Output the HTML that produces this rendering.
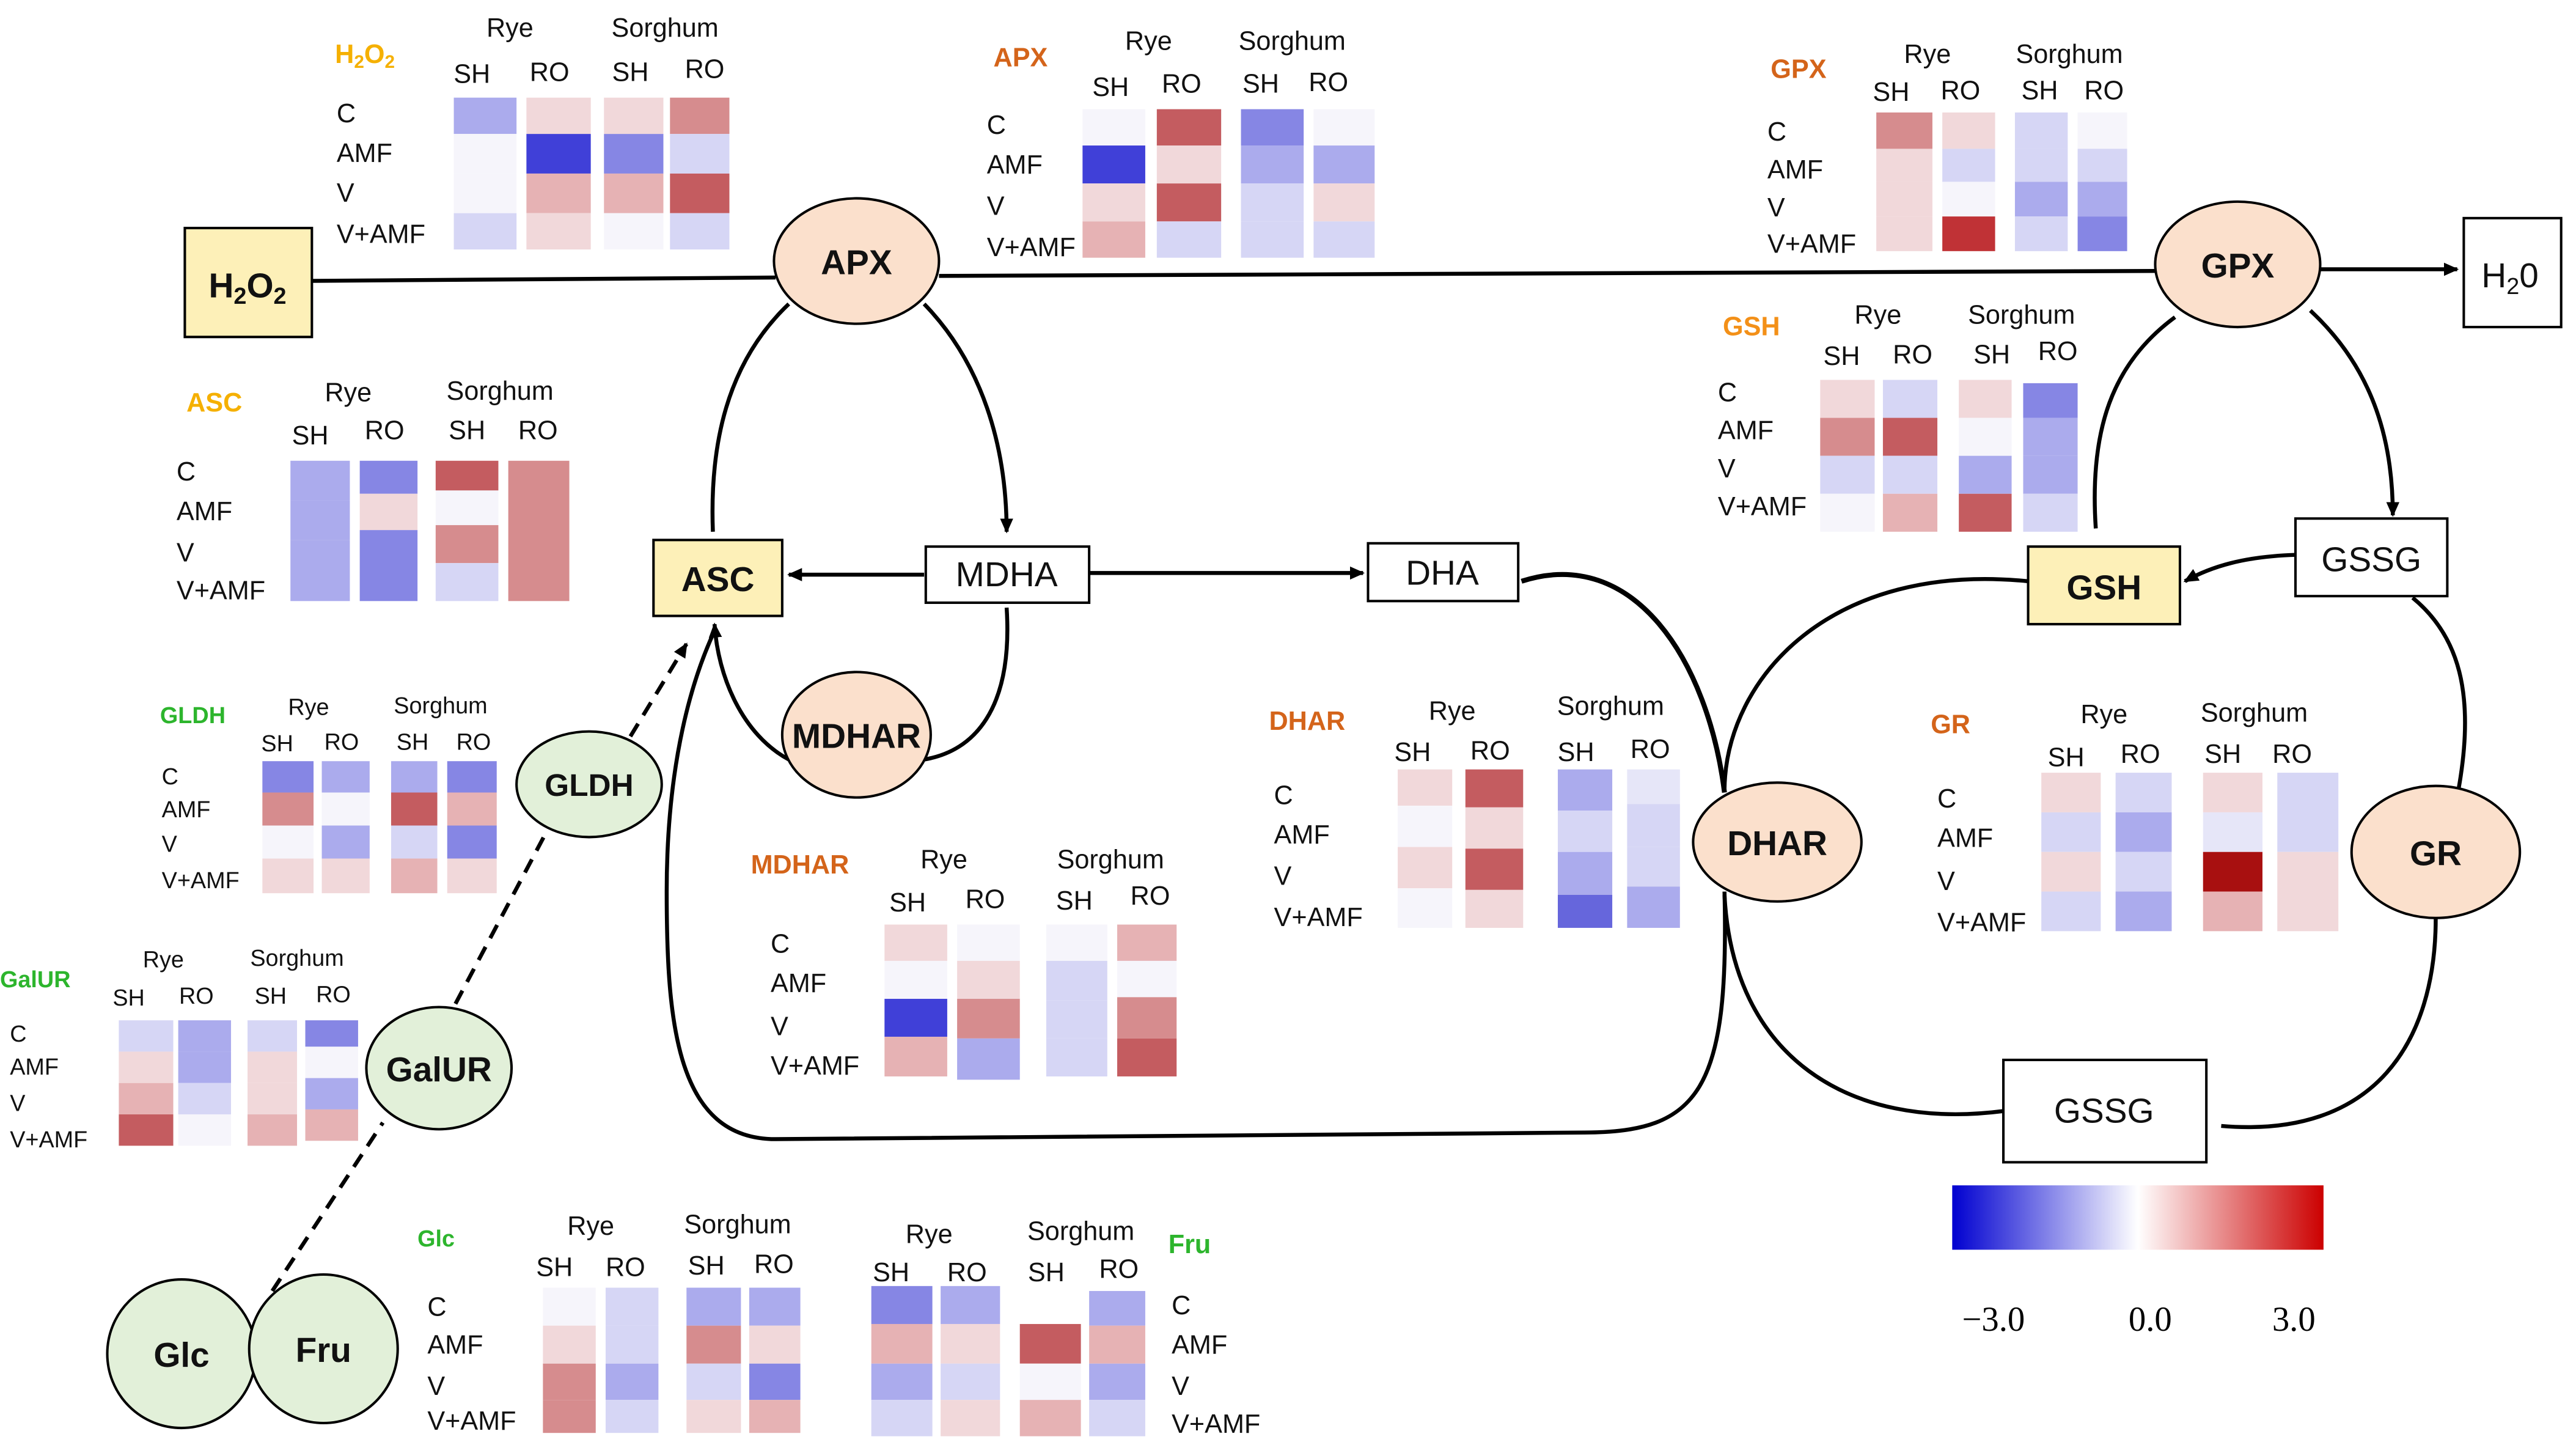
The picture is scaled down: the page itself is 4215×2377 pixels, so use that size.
<!DOCTYPE html>
<html><head><meta charset="utf-8"><style>
html,body{margin:0;padding:0;background:#fff;}
svg{display:block;}
text{font-family:"Liberation Sans","DejaVu Sans",sans-serif;}
.h{font-size:16px;fill:#111;}
.r{font-size:16px;fill:#111;}
.hs{font-size:14px;fill:#111;}
.to{font-size:16px;font-weight:bold;fill:#d4641a;}
.ty{font-size:16px;font-weight:bold;fill:#f5b000;}
.tg{font-size:14px;font-weight:bold;fill:#2db52d;}
.n{font-size:21px;font-weight:bold;fill:#111;}
.b{font-size:21px;fill:#111;}
.B3{fill:#4040d8}.B2{fill:#8686e4}.B1{fill:#ababed}.B0{fill:#d6d6f5}.W{fill:#f6f5fb}
.R0{fill:#f1d8da}.R1{fill:#e6b2b4}.R2{fill:#d68c8e}.R3{fill:#c45c60}.RR{fill:#a81010}
.ln{fill:none;stroke:#000;stroke-width:2.4}
</style></head><body>
<svg width="4215" height="2377" viewBox="0 0 1561 880" xmlns="http://www.w3.org/2000/svg">
<defs>
<marker id="a" markerWidth="10" markerHeight="10" refX="8" refY="5" orient="auto" markerUnits="userSpaceOnUse"><path d="M0,1 L9,5 L0,9 z" fill="#000"/></marker>
<linearGradient id="cb" x1="0" x2="1" y1="0" y2="0"><stop offset="0" stop-color="#0000d0"/><stop offset="0.5" stop-color="#ffffff"/><stop offset="1" stop-color="#cc0000"/></linearGradient>
</defs>

<!-- connectors -->
<path class="ln" d="M189,170 L470,168"/>
<path class="ln" d="M569,167 L1306,164"/>
<path class="ln" d="M1406,163 L1489,163" marker-end="url(#a)"/>
<path class="ln" d="M478,184 C440,220 430,270 432,322"/>
<path class="ln" d="M560,184 C595,220 610,270 610,322" marker-end="url(#a)"/>
<path class="ln" d="M560,348 L478,348" marker-end="url(#a)"/>
<path class="ln" d="M660,347 L826,347" marker-end="url(#a)"/>
<path class="ln" d="M610,368 C614,430 590,455 560,460"/>
<path class="ln" d="M478,460 C450,445 435,410 433,378" marker-end="url(#a)"/>
<path class="ln" style="stroke-width:3" d="M922,352 C990,330 1035,400 1045,480"/>
<path class="ln" d="M1045,540 C1048,660 1030,686 960,686 L470,690 C410,690 404,620 404,540 C404,460 420,410 433,382"/>
<path class="ln" d="M1229,352 C1110,340 1046,410 1045,478"/>
<path class="ln" d="M1045,542 C1050,640 1120,685 1214,673"/>
<path class="ln" d="M1346,682 C1440,690 1476,630 1476,556"/>
<path class="ln" d="M1490,477 C1500,420 1490,385 1462,362"/>
<path class="ln" d="M1391,336 C1360,337 1340,343 1324,352" marker-end="url(#a)"/>
<path class="ln" d="M1400,188 C1440,225 1450,270 1450,312" marker-end="url(#a)"/>
<path class="ln" d="M1270,320 C1266,260 1280,220 1318,192"/>
<path class="ln" stroke-dasharray="9,6" d="M165,782 L232,680"/>
<path class="ln" stroke-dasharray="9,6" d="M276,608 L330,506"/>
<path class="ln" stroke-dasharray="9,6" d="M382,446 L416,390" marker-end="url(#a)"/>

<!-- nodes -->
<rect x="112" y="138" width="77" height="66" fill="#fdf0b8" stroke="#000" stroke-width="1.5"/>
<text x="150" y="180" class="n" text-anchor="middle">H<tspan font-size="14" dy="4">2</tspan><tspan dy="-4">O</tspan><tspan font-size="14" dy="4">2</tspan></text>
<ellipse cx="519" cy="158" rx="50" ry="38" fill="#fbe0cc" stroke="#000" stroke-width="1.5"/>
<text x="519" y="166" class="n" text-anchor="middle">APX</text>
<ellipse cx="1356" cy="160" rx="50" ry="38" fill="#fbe0cc" stroke="#000" stroke-width="1.5"/>
<text x="1356" y="168" class="n" text-anchor="middle">GPX</text>
<rect x="1493" y="132" width="59" height="66" fill="#fff" stroke="#000" stroke-width="1.5"/>
<text x="1521" y="174" class="b" text-anchor="middle">H<tspan font-size="14" dy="4">2</tspan><tspan dy="-4">0</tspan></text>
<rect x="396" y="327" width="78" height="46" fill="#fdf0b8" stroke="#000" stroke-width="1.5"/>
<text x="435" y="358" class="n" text-anchor="middle">ASC</text>
<rect x="561" y="331" width="99" height="34" fill="#fff" stroke="#000" stroke-width="1.5"/>
<text x="610" y="355" class="b" text-anchor="middle">MDHA</text>
<rect x="829" y="329" width="91" height="35" fill="#fff" stroke="#000" stroke-width="1.5"/>
<text x="874" y="354" class="b" text-anchor="middle">DHA</text>
<ellipse cx="519" cy="445" rx="45" ry="38" fill="#fbe0cc" stroke="#000" stroke-width="1.5"/>
<text x="519" y="453" class="n" text-anchor="middle">MDHAR</text>
<rect x="1229" y="331" width="92" height="47" fill="#fdf0b8" stroke="#000" stroke-width="1.5"/>
<text x="1275" y="363" class="n" text-anchor="middle">GSH</text>
<rect x="1391" y="314" width="92" height="47" fill="#fff" stroke="#000" stroke-width="1.5"/>
<text x="1437" y="346" class="b" text-anchor="middle">GSSG</text>
<ellipse cx="1077" cy="510" rx="51" ry="36" fill="#fbe0cc" stroke="#000" stroke-width="1.5"/>
<text x="1077" y="518" class="n" text-anchor="middle">DHAR</text>
<ellipse cx="1476" cy="516" rx="51" ry="40" fill="#fbe0cc" stroke="#000" stroke-width="1.5"/>
<text x="1476" y="524" class="n" text-anchor="middle">GR</text>
<rect x="1214" y="642" width="123" height="62" fill="#fff" stroke="#000" stroke-width="1.5"/>
<text x="1275" y="680" class="b" text-anchor="middle">GSSG</text>
<ellipse cx="357" cy="475" rx="44" ry="32" fill="#e2f0d9" stroke="#000" stroke-width="1.5"/>
<text x="357" y="482" class="n" font-size="19" text-anchor="middle" style="font-size:19px">GLDH</text>
<ellipse cx="266" cy="647" rx="44" ry="37" fill="#e2f0d9" stroke="#000" stroke-width="1.5"/>
<text x="266" y="655" class="n" text-anchor="middle">GalUR</text>
<circle cx="110" cy="820" r="45" fill="#e2f0d9" stroke="#000" stroke-width="1.5"/>
<text x="110" y="828" class="n" text-anchor="middle">Glc</text>
<circle cx="196" cy="817" r="45" fill="#e2f0d9" stroke="#000" stroke-width="1.5"/>
<text x="196" y="825" class="n" text-anchor="middle">Fru</text>

<!-- colorbar -->
<rect x="1183" y="718" width="225" height="39" fill="url(#cb)"/>
<text x="1208" y="806" text-anchor="middle" style="font-family:'Liberation Serif',serif;font-size:21px">−3.0</text>
<text x="1303" y="806" text-anchor="middle" style="font-family:'Liberation Serif',serif;font-size:21px">0.0</text>
<text x="1390" y="806" text-anchor="middle" style="font-family:'Liberation Serif',serif;font-size:21px">3.0</text>

<!-- H2O2 heatmap -->
<text x="203" y="38" class="ty">H<tspan font-size="11" dy="3">2</tspan><tspan dy="-3">O</tspan><tspan font-size="11" dy="3">2</tspan></text>
<text x="309" y="22" class="h" text-anchor="middle">Rye</text><text x="403" y="22" class="h" text-anchor="middle">Sorghum</text>
<text x="286" y="50" class="h" text-anchor="middle">SH</text><text x="333" y="49" class="h" text-anchor="middle">RO</text><text x="382" y="49" class="h" text-anchor="middle">SH</text><text x="427" y="47" class="h" text-anchor="middle">RO</text>
<text x="204" y="74" class="r">C</text><text x="204" y="98" class="r">AMF</text><text x="204" y="122" class="r">V</text><text x="204" y="147" class="r">V+AMF</text>
<rect x="275" y="59" width="38" height="22" class="B1"/><rect x="275" y="81" width="38" height="24" class="W"/><rect x="275" y="105" width="38" height="24" class="W"/><rect x="275" y="129" width="38" height="22" class="B0"/>
<rect x="319" y="59" width="39" height="22" class="R0"/><rect x="319" y="81" width="39" height="24" class="B3"/><rect x="319" y="105" width="39" height="24" class="R1"/><rect x="319" y="129" width="39" height="22" class="R0"/>
<rect x="366" y="59" width="36" height="22" class="R0"/><rect x="366" y="81" width="36" height="24" class="B2"/><rect x="366" y="105" width="36" height="24" class="R1"/><rect x="366" y="129" width="36" height="22" class="W"/>
<rect x="406" y="59" width="36" height="22" class="R2"/><rect x="406" y="81" width="36" height="24" class="B0"/><rect x="406" y="105" width="36" height="24" class="R3"/><rect x="406" y="129" width="36" height="22" class="B0"/>

<!-- APX heatmap -->
<text x="602" y="40" class="to">APX</text>
<text x="696" y="30" class="h" text-anchor="middle">Rye</text><text x="783" y="30" class="h" text-anchor="middle">Sorghum</text>
<text x="673" y="58" class="h" text-anchor="middle">SH</text><text x="716" y="56" class="h" text-anchor="middle">RO</text><text x="764" y="56" class="h" text-anchor="middle">SH</text><text x="805" y="55" class="h" text-anchor="middle">RO</text>
<text x="598" y="81" class="r">C</text><text x="598" y="105" class="r">AMF</text><text x="598" y="130" class="r">V</text><text x="598" y="155" class="r">V+AMF</text>
<rect x="656" y="66" width="38" height="22" class="W"/><rect x="656" y="88" width="38" height="23" class="B3"/><rect x="656" y="111" width="38" height="23" class="R0"/><rect x="656" y="134" width="38" height="22" class="R1"/>
<rect x="701" y="66" width="39" height="22" class="R3"/><rect x="701" y="88" width="39" height="23" class="R0"/><rect x="701" y="111" width="39" height="23" class="R3"/><rect x="701" y="134" width="39" height="22" class="B0"/>
<rect x="752" y="66" width="38" height="22" class="B2"/><rect x="752" y="88" width="38" height="23" class="B1"/><rect x="752" y="111" width="38" height="23" class="B0"/><rect x="752" y="134" width="38" height="22" class="B0"/>
<rect x="796" y="66" width="37" height="22" class="W"/><rect x="796" y="88" width="37" height="23" class="B1"/><rect x="796" y="111" width="37" height="23" class="R0"/><rect x="796" y="134" width="37" height="22" class="B0"/>

<!-- GPX heatmap -->
<text x="1073" y="47" class="to">GPX</text>
<text x="1168" y="38" class="h" text-anchor="middle">Rye</text><text x="1254" y="38" class="h" text-anchor="middle">Sorghum</text>
<text x="1146" y="61" class="h" text-anchor="middle">SH</text><text x="1188" y="60" class="h" text-anchor="middle">RO</text><text x="1236" y="60" class="h" text-anchor="middle">SH</text><text x="1275" y="60" class="h" text-anchor="middle">RO</text>
<text x="1071" y="85" class="r">C</text><text x="1071" y="108" class="r">AMF</text><text x="1071" y="131" class="r">V</text><text x="1071" y="153" class="r">V+AMF</text>
<rect x="1137" y="68" width="34" height="22" class="R2"/><rect x="1137" y="90" width="34" height="20" class="R0"/><rect x="1137" y="110" width="34" height="21" class="R0"/><rect x="1137" y="131" width="34" height="21" class="R0"/>
<rect x="1177" y="68" width="32" height="22" class="R0"/><rect x="1177" y="90" width="32" height="20" class="B0"/><rect x="1177" y="110" width="32" height="21" class="W"/><rect x="1177" y="131" width="32" height="21" fill="#c03236"/>
<rect x="1221" y="68" width="32" height="22" class="B0"/><rect x="1221" y="90" width="32" height="20" class="B0"/><rect x="1221" y="110" width="32" height="21" class="B1"/><rect x="1221" y="131" width="32" height="21" class="B0"/>
<rect x="1259" y="68" width="30" height="22" class="W"/><rect x="1259" y="90" width="30" height="20" class="B0"/><rect x="1259" y="110" width="30" height="21" class="B1"/><rect x="1259" y="131" width="30" height="21" class="B2"/>

<!-- GSH heatmap -->
<text x="1044" y="203" class="to" style="fill:#f39018">GSH</text>
<text x="1138" y="196" class="h" text-anchor="middle">Rye</text><text x="1225" y="196" class="h" text-anchor="middle">Sorghum</text>
<text x="1116" y="221" class="h" text-anchor="middle">SH</text><text x="1159" y="220" class="h" text-anchor="middle">RO</text><text x="1207" y="220" class="h" text-anchor="middle">SH</text><text x="1247" y="218" class="h" text-anchor="middle">RO</text>
<text x="1041" y="243" class="r">C</text><text x="1041" y="266" class="r">AMF</text><text x="1041" y="289" class="r">V</text><text x="1041" y="312" class="r">V+AMF</text>
<rect x="1103" y="230" width="33" height="23" class="R0"/><rect x="1103" y="253" width="33" height="23" class="R2"/><rect x="1103" y="276" width="33" height="23" class="B0"/><rect x="1103" y="299" width="33" height="23" class="W"/>
<rect x="1141" y="230" width="33" height="23" class="B0"/><rect x="1141" y="253" width="33" height="23" class="R3"/><rect x="1141" y="276" width="33" height="23" class="B0"/><rect x="1141" y="299" width="33" height="23" class="R1"/>
<rect x="1187" y="230" width="32" height="23" class="R0"/><rect x="1187" y="253" width="32" height="23" class="W"/><rect x="1187" y="276" width="32" height="23" class="B1"/><rect x="1187" y="299" width="32" height="23" class="R3"/>
<rect x="1226" y="232" width="33" height="21" class="B2"/><rect x="1226" y="253" width="33" height="23" class="B1"/><rect x="1226" y="276" width="33" height="23" class="B1"/><rect x="1226" y="299" width="33" height="23" class="B0"/>

<!-- ASC heatmap -->
<text x="113" y="249" class="ty">ASC</text>
<text x="211" y="243" class="h" text-anchor="middle">Rye</text><text x="303" y="242" class="h" text-anchor="middle">Sorghum</text>
<text x="188" y="269" class="h" text-anchor="middle">SH</text><text x="233" y="266" class="h" text-anchor="middle">RO</text><text x="283" y="266" class="h" text-anchor="middle">SH</text><text x="326" y="266" class="h" text-anchor="middle">RO</text>
<text x="107" y="291" class="r">C</text><text x="107" y="315" class="r">AMF</text><text x="107" y="340" class="r">V</text><text x="107" y="363" class="r">V+AMF</text>
<rect x="176" y="279" width="36" height="24" class="B1"/><rect x="176" y="303" width="36" height="24" class="B1"/><rect x="176" y="327" width="36" height="23" class="B1"/><rect x="176" y="350" width="36" height="14" class="B1"/>
<rect x="218" y="279" width="35" height="20" class="B2"/><rect x="218" y="299" width="35" height="22" class="R0"/><rect x="218" y="321" width="35" height="43" class="B2"/>
<rect x="264" y="279" width="38" height="18" class="R3"/><rect x="264" y="297" width="38" height="21" class="W"/><rect x="264" y="318" width="38" height="23" class="R2"/><rect x="264" y="341" width="38" height="23" class="B0"/>
<rect x="308" y="279" width="37" height="85" class="R2"/>

<!-- GLDH heatmap -->
<text x="97" y="438" class="tg">GLDH</text>
<text x="187" y="433" class="hs" text-anchor="middle">Rye</text><text x="267" y="432" class="hs" text-anchor="middle">Sorghum</text>
<text x="168" y="455" class="hs" text-anchor="middle">SH</text><text x="207" y="454" class="hs" text-anchor="middle">RO</text><text x="250" y="454" class="hs" text-anchor="middle">SH</text><text x="287" y="454" class="hs" text-anchor="middle">RO</text>
<text x="98" y="475" class="hs">C</text><text x="98" y="495" class="hs">AMF</text><text x="98" y="516" class="hs">V</text><text x="98" y="538" class="hs">V+AMF</text>
<rect x="159" y="461" width="31" height="19" class="B2"/><rect x="159" y="480" width="31" height="20" class="R2"/><rect x="159" y="500" width="31" height="20" class="W"/><rect x="159" y="520" width="31" height="21" class="R0"/>
<rect x="195" y="461" width="29" height="19" class="B1"/><rect x="195" y="480" width="29" height="20" class="W"/><rect x="195" y="500" width="29" height="20" class="B1"/><rect x="195" y="520" width="29" height="21" class="R0"/>
<rect x="237" y="461" width="28" height="19" class="B1"/><rect x="237" y="480" width="28" height="20" class="R3"/><rect x="237" y="500" width="28" height="20" class="B0"/><rect x="237" y="520" width="28" height="21" class="R1"/>
<rect x="271" y="461" width="30" height="19" class="B2"/><rect x="271" y="480" width="30" height="20" class="R1"/><rect x="271" y="500" width="30" height="20" class="B2"/><rect x="271" y="520" width="30" height="21" class="R0"/>

<!-- GalUR heatmap -->
<text x="0" y="598" class="tg">GalUR</text>
<text x="99" y="586" class="hs" text-anchor="middle">Rye</text><text x="180" y="585" class="hs" text-anchor="middle">Sorghum</text>
<text x="78" y="609" class="hs" text-anchor="middle">SH</text><text x="119" y="608" class="hs" text-anchor="middle">RO</text><text x="164" y="608" class="hs" text-anchor="middle">SH</text><text x="202" y="607" class="hs" text-anchor="middle">RO</text>
<text x="6" y="631" class="hs">C</text><text x="6" y="651" class="hs">AMF</text><text x="6" y="673" class="hs">V</text><text x="6" y="695" class="hs">V+AMF</text>
<rect x="72" y="618" width="33" height="19" class="B0"/><rect x="72" y="637" width="33" height="19" class="R0"/><rect x="72" y="656" width="33" height="19" class="R1"/><rect x="72" y="675" width="33" height="19" class="R3"/>
<rect x="108" y="618" width="32" height="19" class="B1"/><rect x="108" y="637" width="32" height="19" class="B1"/><rect x="108" y="656" width="32" height="19" class="B0"/><rect x="108" y="675" width="32" height="19" class="W"/>
<rect x="150" y="618" width="30" height="19" class="B0"/><rect x="150" y="637" width="30" height="19" class="R0"/><rect x="150" y="656" width="30" height="19" class="R0"/><rect x="150" y="675" width="30" height="19" class="R1"/>
<rect x="185" y="618" width="32" height="16" class="B2"/><rect x="185" y="634" width="32" height="19" class="W"/><rect x="185" y="653" width="32" height="19" class="B1"/><rect x="185" y="672" width="32" height="19" class="R1"/>

<!-- MDHAR heatmap -->
<text x="455" y="529" class="to">MDHAR</text>
<text x="572" y="526" class="h" text-anchor="middle">Rye</text><text x="673" y="526" class="h" text-anchor="middle">Sorghum</text>
<text x="550" y="552" class="h" text-anchor="middle">SH</text><text x="597" y="550" class="h" text-anchor="middle">RO</text><text x="651" y="551" class="h" text-anchor="middle">SH</text><text x="697" y="548" class="h" text-anchor="middle">RO</text>
<text x="467" y="577" class="r">C</text><text x="467" y="601" class="r">AMF</text><text x="467" y="627" class="r">V</text><text x="467" y="651" class="r">V+AMF</text>
<rect x="536" y="560" width="38" height="22" class="R0"/><rect x="536" y="582" width="38" height="23" class="W"/><rect x="536" y="605" width="38" height="23" class="B3"/><rect x="536" y="628" width="38" height="24" class="R1"/>
<rect x="580" y="560" width="38" height="22" class="W"/><rect x="580" y="582" width="38" height="23" class="R0"/><rect x="580" y="605" width="38" height="24" class="R2"/><rect x="580" y="629" width="38" height="25" class="B1"/>
<rect x="634" y="560" width="37" height="22" class="W"/><rect x="634" y="582" width="37" height="24" class="B0"/><rect x="634" y="606" width="37" height="23" class="B0"/><rect x="634" y="629" width="37" height="23" class="B0"/>
<rect x="677" y="560" width="36" height="22" class="R1"/><rect x="677" y="582" width="36" height="22" class="W"/><rect x="677" y="604" width="36" height="25" class="R2"/><rect x="677" y="629" width="36" height="23" class="R3"/>

<!-- DHAR heatmap -->
<text x="769" y="442" class="to">DHAR</text>
<text x="880" y="436" class="h" text-anchor="middle">Rye</text><text x="976" y="433" class="h" text-anchor="middle">Sorghum</text>
<text x="856" y="461" class="h" text-anchor="middle">SH</text><text x="903" y="460" class="h" text-anchor="middle">RO</text><text x="955" y="461" class="h" text-anchor="middle">SH</text><text x="1000" y="459" class="h" text-anchor="middle">RO</text>
<text x="772" y="487" class="r">C</text><text x="772" y="511" class="r">AMF</text><text x="772" y="536" class="r">V</text><text x="772" y="561" class="r">V+AMF</text>
<rect x="847" y="466" width="33" height="22" class="R0"/><rect x="847" y="488" width="33" height="25" class="W"/><rect x="847" y="513" width="33" height="25" class="R0"/><rect x="847" y="538" width="33" height="24" class="W"/>
<rect x="888" y="466" width="35" height="23" class="R3"/><rect x="888" y="489" width="35" height="25" class="R0"/><rect x="888" y="514" width="35" height="25" class="R3"/><rect x="888" y="539" width="35" height="23" class="R0"/>
<rect x="944" y="466" width="33" height="25" class="B1"/><rect x="944" y="491" width="33" height="25" class="B0"/><rect x="944" y="516" width="33" height="26" class="B1"/><rect x="944" y="542" width="33" height="20" class="B2" style="fill:#6666dc"/>
<rect x="986" y="466" width="32" height="21" class="B0" style="fill:#e6e6f8"/><rect x="986" y="487" width="32" height="26" class="B0"/><rect x="986" y="513" width="32" height="24" class="B0"/><rect x="986" y="537" width="32" height="25" class="B1"/>

<!-- GR heatmap -->
<text x="1170" y="444" class="to">GR</text>
<text x="1275" y="438" class="h" text-anchor="middle">Rye</text><text x="1366" y="437" class="h" text-anchor="middle">Sorghum</text>
<text x="1252" y="464" class="h" text-anchor="middle">SH</text><text x="1297" y="462" class="h" text-anchor="middle">RO</text><text x="1347" y="462" class="h" text-anchor="middle">SH</text><text x="1389" y="462" class="h" text-anchor="middle">RO</text>
<text x="1174" y="489" class="r">C</text><text x="1174" y="513" class="r">AMF</text><text x="1174" y="539" class="r">V</text><text x="1174" y="564" class="r">V+AMF</text>
<rect x="1237" y="468" width="36" height="24" class="R0"/><rect x="1237" y="492" width="36" height="24" class="B0"/><rect x="1237" y="516" width="36" height="24" class="R0"/><rect x="1237" y="540" width="36" height="24" class="B0"/>
<rect x="1282" y="468" width="34" height="24" class="B0"/><rect x="1282" y="492" width="34" height="24" class="B1"/><rect x="1282" y="516" width="34" height="24" class="B0"/><rect x="1282" y="540" width="34" height="24" class="B1"/>
<rect x="1335" y="468" width="36" height="24" class="R0"/><rect x="1335" y="492" width="36" height="24" class="B0" style="fill:#e6e6f8"/><rect x="1335" y="516" width="36" height="24" class="RR"/><rect x="1335" y="540" width="36" height="24" class="R1"/>
<rect x="1380" y="468" width="37" height="48" class="B0"/><rect x="1380" y="516" width="37" height="48" class="R0"/>

<!-- Glc heatmap -->
<text x="253" y="755" class="tg">Glc</text>
<text x="358" y="748" class="h" text-anchor="middle">Rye</text><text x="447" y="747" class="h" text-anchor="middle">Sorghum</text>
<text x="336" y="773" class="h" text-anchor="middle">SH</text><text x="379" y="773" class="h" text-anchor="middle">RO</text><text x="428" y="772" class="h" text-anchor="middle">SH</text><text x="469" y="771" class="h" text-anchor="middle">RO</text>
<text x="259" y="797" class="r">C</text><text x="259" y="820" class="r">AMF</text><text x="259" y="845" class="r">V</text><text x="259" y="866" class="r">V+AMF</text>
<rect x="329" y="780" width="32" height="23" class="W"/><rect x="329" y="803" width="32" height="23" class="R0"/><rect x="329" y="826" width="32" height="22" class="R2"/><rect x="329" y="848" width="32" height="20" class="R2"/>
<rect x="367" y="780" width="32" height="23" class="B0"/><rect x="367" y="803" width="32" height="23" class="B0"/><rect x="367" y="826" width="32" height="22" class="B1"/><rect x="367" y="848" width="32" height="20" class="B0"/>
<rect x="416" y="780" width="33" height="23" class="B1"/><rect x="416" y="803" width="33" height="23" class="R2"/><rect x="416" y="826" width="33" height="22" class="B0"/><rect x="416" y="848" width="33" height="20" class="R0"/>
<rect x="454" y="780" width="31" height="23" class="B1"/><rect x="454" y="803" width="31" height="23" class="R0"/><rect x="454" y="826" width="31" height="22" class="B2"/><rect x="454" y="848" width="31" height="20" class="R1"/>

<!-- Fru heatmap -->
<text x="708" y="759" class="tg" style="font-size:16px">Fru</text>
<text x="563" y="753" class="h" text-anchor="middle">Rye</text><text x="655" y="751" class="h" text-anchor="middle">Sorghum</text>
<text x="540" y="776" class="h" text-anchor="middle">SH</text><text x="586" y="776" class="h" text-anchor="middle">RO</text><text x="634" y="776" class="h" text-anchor="middle">SH</text><text x="678" y="774" class="h" text-anchor="middle">RO</text>
<text x="710" y="796" class="r">C</text><text x="710" y="820" class="r">AMF</text><text x="710" y="845" class="r">V</text><text x="710" y="868" class="r">V+AMF</text>
<rect x="528" y="779" width="37" height="23" class="B2"/><rect x="528" y="802" width="37" height="24" class="R1"/><rect x="528" y="826" width="37" height="22" class="B1"/><rect x="528" y="848" width="37" height="22" class="B0"/>
<rect x="570" y="779" width="36" height="23" class="B1"/><rect x="570" y="802" width="36" height="24" class="R0"/><rect x="570" y="826" width="36" height="22" class="B0"/><rect x="570" y="848" width="36" height="22" class="R0"/>
<rect x="618" y="779" width="37" height="23" class="W" style="fill:#fff"/><rect x="618" y="802" width="37" height="24" class="R3"/><rect x="618" y="826" width="37" height="22" class="W"/><rect x="618" y="848" width="37" height="22" class="R1"/>
<rect x="660" y="782" width="34" height="21" class="B1"/><rect x="660" y="803" width="34" height="23" class="R1"/><rect x="660" y="826" width="34" height="22" class="B1"/><rect x="660" y="848" width="34" height="22" class="B0"/>
</svg>
</body></html>
